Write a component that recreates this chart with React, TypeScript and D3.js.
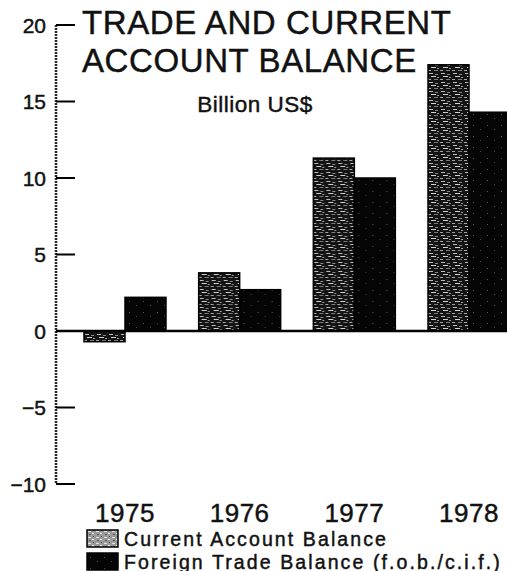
import React from "react";
import * as d3 from "d3";

const years = ["1975", "1976", "1977", "1978"];
const currentAccount = [-0.7, 3.8, 11.3, 17.4];
const tradeBalance = [2.2, 2.7, 10.0, 14.3];
const seriesNames = ["Current Account Balance", "Foreign Trade Balance (f.o.b./c.i.f.)"];
const yTicks = [20, 15, 10, 5, 0, -5, -10];

const W = 507;
const H = 571;
const FONT = "'Liberation Sans', Arial, Helvetica, sans-serif";
const INK = "#111";

export default function App() {
  const y = d3.scaleLinear().domain([-10, 20]).range([484, 25]);
  const x = d3
    .scaleBand<string>()
    .domain(years)
    .range([84, 510])
    .paddingInner(0.285)
    .paddingOuter(0);
  const xs = d3.scaleBand<string>().domain(["ca", "tb"]).range([0, x.bandwidth()]);
  const axisX = 56;

  const rows = years.map((yr, i) => ({ yr, ca: currentAccount[i], tb: tradeBalance[i] }));
  const textInk = { fill: INK, stroke: INK, strokeWidth: 0.45 };

  return (
    <svg
      width={W}
      height={H}
      style={{ position: "absolute", left: 0, top: 0, background: "#fff" }}
      fontFamily={FONT}
    >
      <defs>
        <pattern id="speckle" width="12" height="9" patternUnits="userSpaceOnUse">
          <rect width="12" height="9" fill="#141414" />
          <rect x="1" y="1" width="4" height="1" fill="#bdbdbd" />
          <rect x="7" y="2" width="3" height="1" fill="#8a8a8a" />
          <rect x="3" y="4" width="5" height="1" fill="#d0d0d0" />
          <rect x="9" y="5" width="2" height="1" fill="#9a9a9a" />
          <rect x="0" y="7" width="3" height="1" fill="#a8a8a8" />
          <rect x="6" y="7" width="4" height="1" fill="#7a7a7a" />
        </pattern>
        <pattern id="speckleLight" width="8" height="6" patternUnits="userSpaceOnUse">
          <rect width="8" height="6" fill="#9a9a9a" />
          <rect x="1" y="1" width="3" height="1" fill="#e6e6e6" />
          <rect x="5" y="3" width="2" height="1" fill="#f0f0f0" />
          <rect x="2" y="4" width="2" height="1" fill="#555" />
          <rect x="6" y="0" width="1" height="1" fill="#444" />
        </pattern>
        <pattern id="dark" width="14" height="11" patternUnits="userSpaceOnUse">
          <rect width="14" height="11" fill="#050505" />
          <rect x="3" y="4" width="1" height="1" fill="#555" />
          <rect x="10" y="8" width="1" height="1" fill="#444" />
        </pattern>
      </defs>

      {/* title */}
      <text x={82} y={34} fontSize={33} letterSpacing={0.6} {...textInk}>TRADE AND CURRENT</text>
      <text x={82} y={72} fontSize={33} letterSpacing={0.6} {...textInk}>ACCOUNT BALANCE</text>
      <text x={255} y={112} fontSize={22.5} letterSpacing={0.5} textAnchor="middle" {...textInk}>
        Billion US$
      </text>

      {/* bars */}
      {rows.map((r) => (
        <g key={r.yr} transform={`translate(${x(r.yr)},0)`}>
          <rect
            x={xs("ca")}
            y={y(Math.max(0, r.ca))}
            width={xs.bandwidth()}
            height={Math.abs(y(r.ca) - y(0))}
            fill="url(#speckle)"
            stroke="#000"
            strokeWidth={1.5}
          />
          <rect
            x={xs("tb")}
            y={y(Math.max(0, r.tb))}
            width={xs.bandwidth()}
            height={Math.abs(y(r.tb) - y(0))}
            fill="url(#dark)"
            stroke="#000"
            strokeWidth={1.5}
          />
        </g>
      ))}

      {/* zero line */}
      <line x1={axisX} x2={W} y1={y(0)} y2={y(0)} stroke="#000" strokeWidth={2.5} />

      {/* y axis */}
      <line x1={axisX} x2={axisX} y1={y(20)} y2={y(-10)} stroke="#222" strokeWidth={2.5} strokeDasharray="2 1" />
      {yTicks.map((t) => (
        <g key={t}>
          <line x1={axisX} x2={axisX + 19} y1={y(t)} y2={y(t)} stroke="#000" strokeWidth={2} />
          <text x={axisX - 10} y={y(t)} dy="0.36em" fontSize={21} textAnchor="end" {...textInk}>
            {t < 0 ? `\u2212${Math.abs(t)}` : t}
          </text>
        </g>
      ))}

      {/* year labels */}
      {years.map((yr) => (
        <text
          key={yr}
          x={(x(yr) ?? 0) + x.bandwidth() / 2}
          y={522}
          fontSize={26}
          letterSpacing={0.5}
          textAnchor="middle"
          {...textInk}
        >
          {yr}
        </text>
      ))}

      {/* legend */}
      {seriesNames.map((name, i) => (
        <g key={name} transform={`translate(87,${530 + i * 23})`}>
          <rect
            width={31}
            height={17}
            fill={i === 0 ? "url(#speckleLight)" : "url(#dark)"}
            stroke="#000"
            strokeWidth={1.5}
          />
          <text x={37} y={15.5} fontSize={19.5} letterSpacing={2.1} {...textInk}>
            {name}
          </text>
        </g>
      ))}
    </svg>
  );
}
